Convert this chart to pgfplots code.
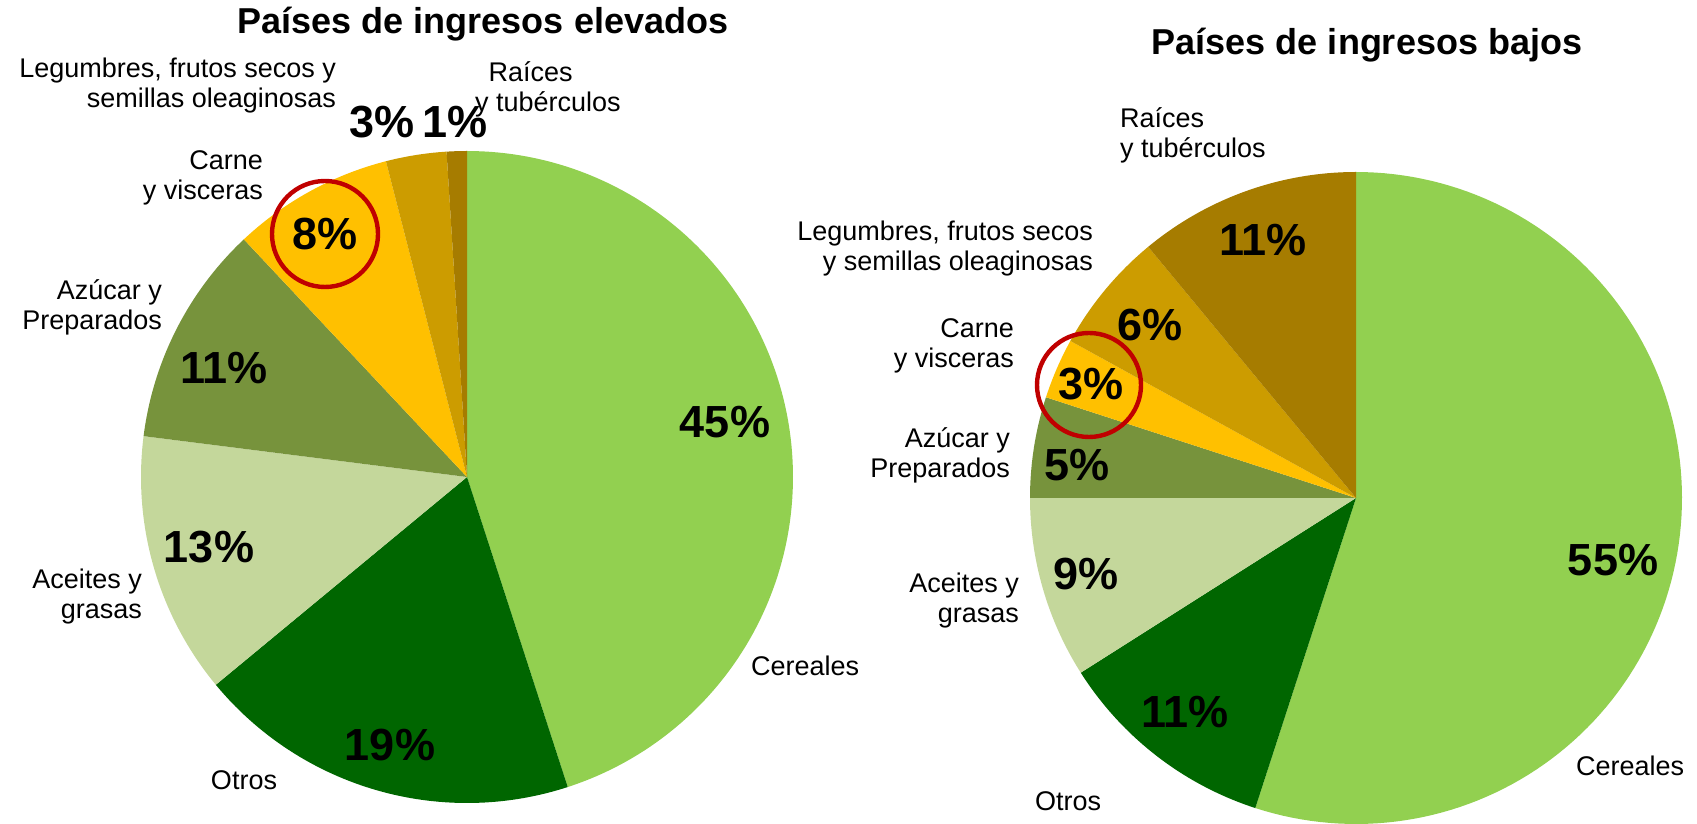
\documentclass[border=0pt]{standalone}
\usepackage{fontspec}
\setmainfont{Liberation Sans}
\usepackage{pgfplots}
\pgfplotsset{compat=1.18}
\definecolor{cCer}{HTML}{92D050}
\definecolor{cOtr}{HTML}{006600}
\definecolor{cAce}{HTML}{C4D79B}
\definecolor{cAzu}{HTML}{77933C}
\definecolor{cCar}{HTML}{FFC000}
\definecolor{cLeg}{HTML}{CC9C00}
\definecolor{cRai}{HTML}{A67C00}
\definecolor{cRed}{HTML}{C00000}
\def\R{326}
% slice: center x, center y, cumulative start %, cumulative end %, colour
\newcommand{\slice}[5]{%
  \addplot[draw=none, fill=#5, domain=90-3.6*#4:90-3.6*#3, samples=120]
    ({#1+\R*cos(x)},{#2+\R*sin(x)}) -- (axis cs:#1,#2) -- cycle;}
\tikzset{
  pct/.style={font=\bfseries\fontsize{22.5}{27}\selectfont},
  cat/.style={font=\fontsize{13.5}{15}\selectfont},
  ttl/.style={font=\bfseries\fontsize{18}{21}\selectfont},
}
\begin{document}
\begin{tikzpicture}
\useasboundingbox (0,0) rectangle (848.5pt,412pt);
\begin{axis}[
  at={(0,0)}, anchor=south west,
  scale only axis, width=848.5pt, height=412pt,
  xmin=0, xmax=1697, ymin=0, ymax=824,
  hide axis, clip=false,
]
% ---- Países de ingresos elevados: 45,19,13,11,8,3,1
\slice{467}{347}{0}{45}{cCer}
\slice{467}{347}{45}{64}{cOtr}
\slice{467}{347}{64}{77}{cAce}
\slice{467}{347}{77}{88}{cAzu}
\slice{467}{347}{88}{96}{cCar}
\slice{467}{347}{96}{99}{cLeg}
\slice{467}{347}{99}{100}{cRai}
% ---- Países de ingresos bajos: 55,11,9,5,3,6,11
\slice{1356}{326}{0}{55}{cCer}
\slice{1356}{326}{55}{66}{cOtr}
\slice{1356}{326}{66}{75}{cAce}
\slice{1356}{326}{75}{80}{cAzu}
\slice{1356}{326}{80}{83}{cCar}
\slice{1356}{326}{83}{89}{cLeg}
\slice{1356}{326}{89}{100}{cRai}

% titles
\node[ttl] at (axis cs:483,800) {Países de ingresos elevados};
\node[ttl] at (axis cs:1367,779) {Países de ingresos bajos};

% left percentages
\node[pct] at (axis cs:725,402) {45\%};
\node[pct] at (axis cs:390,79) {19\%};
\node[pct] at (axis cs:209,277) {13\%};
\node[pct] at (axis cs:224,456) {11\%};
\node[pct] at (axis cs:325,590) {8\%};
\node[pct] at (axis cs:382,702) {3\%};
\node[pct] at (axis cs:455,702) {1\%};
% left categories
\node[cat, anchor=west] at (axis cs:744,158) {Cereales};
\node[cat] at (axis cs:244,44) {Otros};
\node[cat, anchor=east, align=right] at (axis cs:149,227) {Aceites y\\grasas};
\node[cat, anchor=east, align=right] at (axis cs:169,517) {Azúcar y\\Preparados};
\node[cat, anchor=east, align=right] at (axis cs:270,646) {Carne\\y visceras};
\node[cat, anchor=east, align=right] at (axis cs:343,738) {Legumbres, frutos secos y\\semillas oleaginosas};
\node[cat, anchor=west, align=left] at (axis cs:468,735) {\hspace{0.5em}Raíces\\y tubérculos};
\draw[cRed, line width=2.2pt] (axis cs:325,590) circle[radius=26.5pt];

% right percentages
\node[pct] at (axis cs:1613,264) {55\%};
\node[pct] at (axis cs:1185,112) {11\%};
\node[pct] at (axis cs:1086,250) {9\%};
\node[pct] at (axis cs:1077,359) {5\%};
\node[pct] at (axis cs:1091,440) {3\%};
\node[pct] at (axis cs:1150,499) {6\%};
\node[pct] at (axis cs:1263,584) {11\%};
% right categories
\node[cat, anchor=west] at (axis cs:1569,58) {Cereales};
\node[cat] at (axis cs:1068,23) {Otros};
\node[cat, anchor=east, align=right] at (axis cs:1026,223) {Aceites y\\grasas};
\node[cat, anchor=east, align=right] at (axis cs:1017,369) {Azúcar y\\Preparados};
\node[cat, anchor=east, align=right] at (axis cs:1021,478) {Carne\\y visceras};
\node[cat, anchor=east, align=right] at (axis cs:1100,575) {Legumbres, frutos secos\\y semillas oleaginosas};
\node[cat, anchor=west, align=left] at (axis cs:1113,689) {Raíces\\y tubérculos};
\draw[cRed, line width=2.2pt] (axis cs:1089,439) circle[radius=26pt];
\end{axis}
\end{tikzpicture}
\end{document}
